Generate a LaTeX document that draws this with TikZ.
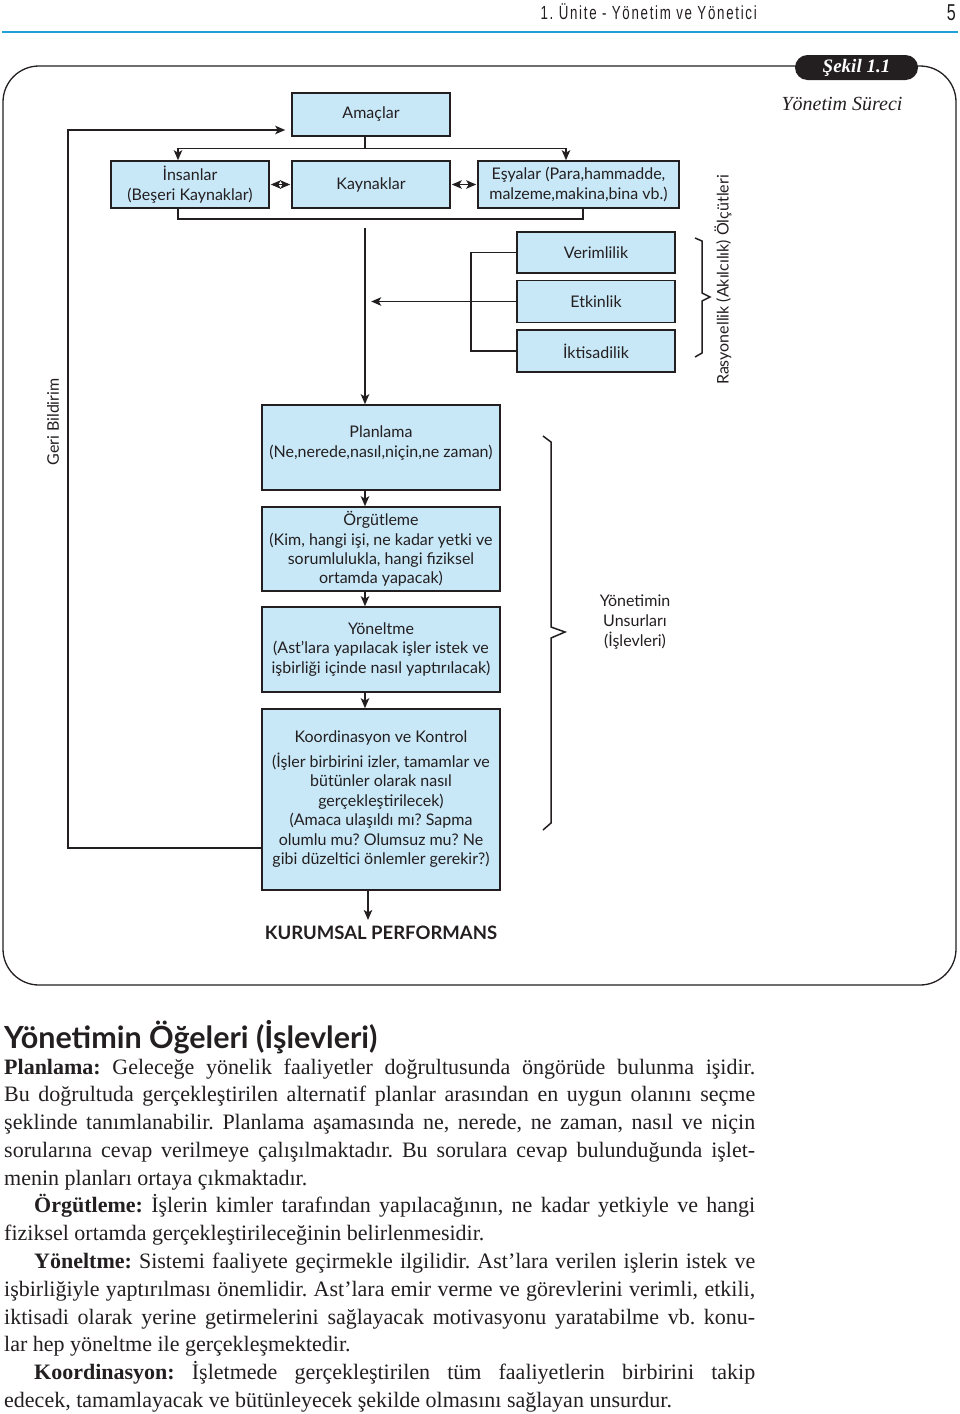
\documentclass[tikz,border=0pt]{standalone}
\usepackage{fontspec}
\usepackage{xcolor}
\usetikzlibrary{arrows,arrows.meta}
\setmainfont{Liberation Serif}
\newfontfamily\gill{Lato}
\newfontfamily\hdrfont[FakeStretch=0.7,LetterSpace=9]{Liberation Sans}
\newfontfamily\bodyfont{Liberation Serif}
\definecolor{boxblue}{RGB}{200,232,248}
\definecolor{ink}{RGB}{35,31,32}
\definecolor{rulecyan}{RGB}{30,160,215}
\newcommand{\jline}[1]{\makebox[751pt][s]{#1}}
\newcommand{\jlinein}[1]{\makebox[721pt][s]{#1}}
\frenchspacing

\begin{document}
\begin{tikzpicture}[x=1pt,y=-1pt]
\tikzset{box/.style={draw=ink,line width=1.6pt,fill=boxblue,inner xsep=2pt,inner ysep=0pt,align=center,text=ink,font=\gill\fontsize{16}{19.5}\selectfont}}
\tikzset{lbl/.style={inner sep=0pt,align=center,text=ink,font=\gill\fontsize{16}{20}\selectfont}}
\tikzset{con/.style={draw=ink,line width=1.5pt}}
\tikzset{body/.style={anchor=base west,inner sep=0pt,text=ink,font=\bodyfont\fontsize{22}{27.8}\selectfont}}
\tikzset{>={Stealth[length=10pt,width=8.5pt,inset=2.5pt]}}

\useasboundingbox (0,0) rectangle (960,1414);

% page head
\node[anchor=base east,inner sep=0pt,text=ink,font=\hdrfont\fontsize{19}{22}\selectfont] (unite) at (757,19) {1. Ünite - Yönetim ve Yönetici};
\node[anchor=base east,inner sep=0pt,text=ink,font=\hdrfont\fontsize{23}{26}\selectfont] (sayfa) at (956,20) {5};
\draw[rulecyan,line width=2pt] (2,32) -- (958,32);

% frame
\draw[ink,line width=1.3pt,rounded corners=36pt] (800,66) -- (3,66) -- (3,985) -- (956,985) -- (956,66) -- (912,66);
\node[fill=ink,rounded corners=12.5pt,minimum width=123pt,minimum height=25pt,inner sep=0pt,text=white,font=\bodyfont\bfseries\itshape\fontsize{19}{22}\selectfont] (sekil) at (856.5,67.5) {Şekil 1.1};
\node[inner sep=0pt,text=ink,font=\itshape\fontsize{20}{24}\selectfont] (surec) at (842,104) {Yönetim Süreci};

% boxes
\node[box,minimum width=158pt,minimum height=43pt] (amaclar) at (371,114.5) {Amaçlar};
\node[box,minimum width=158pt,minimum height=47pt] (insanlar) at (190,184.5) {İnsanlar\\(Beşeri Kaynaklar)};
\node[box,minimum width=158pt,minimum height=47pt] (kaynaklar) at (371,184.5) {Kaynaklar};
\node[box,minimum width=201pt,minimum height=47pt] (esyalar) at (578.5,184.5) {Eşyalar (Para,hammadde,\\malzeme,makina,bina vb.)};
\node[box,minimum width=158pt,minimum height=41pt] (verim) at (596,252.5) {Verimlilik};
\node[box,minimum width=158pt,minimum height=42pt] (etkin) at (596,301.5) {Etkinlik};
\node[box,minimum width=158pt,minimum height=42pt] (iktisat) at (596,351) {İktisadilik};
\node[box,minimum width=238pt,minimum height=85pt] (planlama) at (381,447.5) {Planlama\\(Ne,nerede,nasıl,niçin,ne zaman)\\[-8pt]};
\node[box,minimum width=238pt,minimum height=84pt] (orgutleme) at (381,549) {Örgütleme\\(Kim, hangi işi, ne kadar yetki ve\\sorumlulukla, hangi fiziksel\\ortamda yapacak)};
\node[box,minimum width=238pt,minimum height=85pt] (yoneltme) at (381,649.5) {Yöneltme\\(Ast’lara yapılacak işler istek ve\\işbirliği içinde nasıl yaptırılacak)};
\node[box,minimum width=238pt,minimum height=181pt] (koord) at (381,799.5) {Koordinasyon ve Kontrol\\[5pt](İşler birbirini izler, tamamlar ve\\bütünler olarak nasıl\\gerçekleştirilecek)\\(Amaca ulaşıldı mı? Sapma\\olumlu mu? Olumsuz mu? Ne\\gibi düzeltici önlemler gerekir?)};
\node[inner sep=0pt,text=ink,font=\gill\bfseries\fontsize{18.5}{22}\selectfont] (perf) at (381,933) {KURUMSAL PERFORMANS};

% side labels
\node[lbl,rotate=90] (geri) at (53,422) {Geri Bildirim};
\node[lbl,rotate=90] (rasyo) at (723,280) {Rasyonellik (Akılcılık) Ölçütleri};
\node[lbl] (unsur) at (635,622) {Yönetimin\\Unsurları\\(İşlevleri)};

% connectors
\coordinate (fb) at (68,848);
\draw[con,->] ([yshift=-48.5pt]koord.west) -- (fb) |- ([shift={(-6pt,-15.5pt)}]amaclar.west);
\draw[con] ([xshift=-6pt]amaclar.south) -- ++(0,11.5) coordinate (split);
\draw[con,->] (split) -| ([xshift=-12pt]insanlar.north);
\draw[con,->] (split) -| ([xshift=-12.5pt]esyalar.north);
\draw[con,<->,shorten <=1pt,shorten >=1pt] (insanlar) -- (kaynaklar);
\draw[con,<->,shorten <=1pt,shorten >=1pt] (kaynaklar) -- (esyalar);
\draw[con] ([xshift=-12pt]insanlar.south) -- ++(0,10) -| ([xshift=4.5pt]esyalar.south);
\draw[con,->] ([shift={(-6pt,-19pt)}]kaynaklar.south) -- ([xshift=-16pt]planlama.north);
\draw[con] (verim.west) -- ++(-45,0) |- (iktisat.west);
\draw[con,->] (etkin.west) -- ++(-145,0);
\draw[con,->] ([xshift=-16pt]planlama.south) -- ([xshift=-16pt]orgutleme.north);
\draw[con,->] ([xshift=-16pt]orgutleme.south) -- ([xshift=-16pt]yoneltme.north);
\draw[con,->] ([xshift=-16pt]yoneltme.south) -- ([xshift=-16pt]koord.north);
\draw[con,->,shorten >=6pt] ([xshift=-13pt]koord.south) -- ([xshift=-13pt]perf.north);

% braces
\draw[ink,line width=1.5pt] (695,238) -- (702,241) -- (702,293) -- (710,297) -- (702,301) -- (702,353) -- (695,357);
\draw[ink,line width=1.5pt] (543,436) -- (551,442) -- (551,627) -- (565,632) -- (551,638) -- (551,823) -- (543,830);

% text below
\node[anchor=base west,inner sep=0pt,text=ink,font=\gill\bfseries\fontsize{30.5}{34}\selectfont] (baslik) at (4,1048) {Yönetimin Öğeleri (İşlevleri)};
\node[body] (b1) at (4,1074) {\jline{\textbf{Planlama:} Geleceğe yönelik faaliyetler doğrultusunda öngörüde bulunma işidir.}};
\node[body] (b2) at (4,1101.8) {\jline{Bu doğrultuda gerçekleştirilen alternatif planlar arasından en uygun olanını seçme}};
\node[body] (b3) at (4,1129.6) {\jline{şeklinde tanımlanabilir. Planlama aşamasında ne, nerede, ne zaman, nasıl ve niçin}};
\node[body] (b4) at (4,1157.3) {\jline{sorularına cevap verilmeye çalışılmaktadır. Bu sorulara cevap bulunduğunda işlet-}};
\node[body] (b5) at (4,1185.1) {menin planları ortaya çıkmaktadır.};
\node[body] (b6) at (34,1212.9) {\jlinein{\textbf{Örgütleme:} İşlerin kimler tarafından yapılacağının, ne kadar yetkiyle ve hangi}};
\node[body] (b7) at (4,1240.7) {fiziksel ortamda gerçekleştirileceğinin belirlenmesidir.};
\node[body] (b8) at (34,1268.5) {\jlinein{\textbf{Yöneltme:} Sistemi faaliyete geçirmekle ilgilidir. Ast’lara verilen işlerin istek ve}};
\node[body] (b9) at (4,1296.2) {\jline{işbirliğiyle yaptırılması önemlidir. Ast’lara emir verme ve görevlerini verimli, etkili,}};
\node[body] (b10) at (4,1324) {\jline{iktisadi olarak yerine getirmelerini sağlayacak motivasyonu yaratabilme vb. konu-}};
\node[body] (b11) at (4,1351.8) {lar hep yöneltme ile gerçekleşmektedir.};
\node[body] (b12) at (34,1379.6) {\jlinein{\textbf{Koordinasyon:} İşletmede gerçekleştirilen tüm faaliyetlerin birbirini takip}};
\node[body] (b13) at (4,1407.3) {edecek, tamamlayacak ve bütünleyecek şekilde olmasını sağlayan unsurdur.};

\end{tikzpicture}
\end{document}
